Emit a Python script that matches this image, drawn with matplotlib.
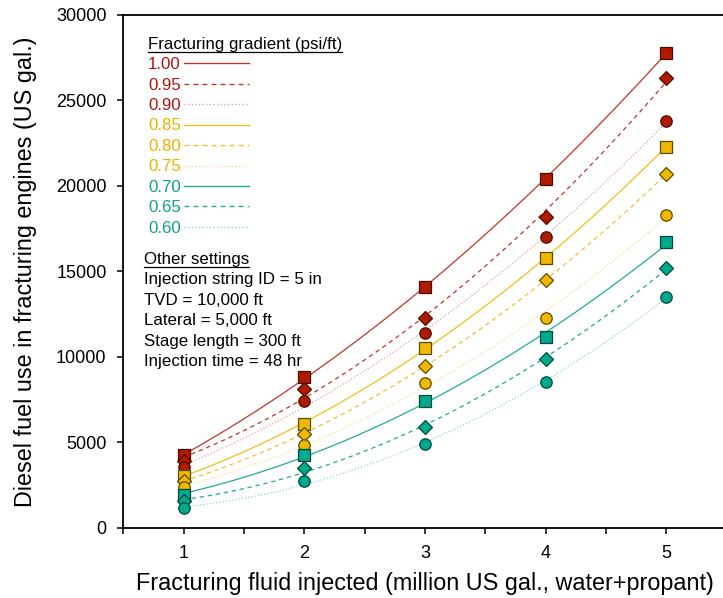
#!/usr/bin/env python3
"""Diesel fuel use vs injected fracturing fluid, per fracturing gradient."""
import matplotlib
matplotlib.use("Agg")
import matplotlib.pyplot as plt
from matplotlib.lines import Line2D
import numpy as np

plt.rcParams["font.family"] = ["Liberation Sans", "DejaVu Sans"]

# million US gal. injected
fluid = [1, 2, 3, 4, 5]

gradients = ["1.00", "0.95", "0.90", "0.85", "0.80", "0.75", "0.70", "0.65", "0.60"]

fuel_100 = [4250, 8800, 14100, 20400, 27800]
fuel_095 = [3900, 8100, 12300, 18200, 26300]
fuel_090 = [3550, 7400, 11400, 17000, 23800]
fuel_085 = [3050, 6100, 10500, 15800, 22300]
fuel_080 = [2750, 5500, 9500, 14500, 20700]
fuel_075 = [2400, 4850, 8500, 12300, 18300]
fuel_070 = [1950, 4250, 7450, 11150, 16700]
fuel_065 = [1550, 3500, 5900, 9900, 15200]
fuel_060 = [1150, 2750, 4900, 8550, 13500]

settings = [
    "Injection string ID = 5 in",
    "TVD = 10,000 ft",
    "Lateral = 5,000 ft",
    "Stage length = 300 ft",
    "Injection time = 48 hr",
]

series = [fuel_100, fuel_095, fuel_090, fuel_085, fuel_080,
          fuel_075, fuel_070, fuel_065, fuel_060]

# three colour groups x three line/marker styles
face = ["#b01a00", "#f0b800", "#00a98b"]
edge = ["#4a0c00", "#5e4a00", "#00483a"]
text_col = ["#b0140f", "#f0b000", "#12a183"]
line_col = [["#c0352a", "#c0352a", "#e8a0a0"],
            ["#f3be1a", "#f0c030", "#f8dc90"],
            ["#1eae90", "#1eae90", "#8adbc6"]]
markers = ["s", "D", "o"]
msizes = [8.2, 7.0, 8.2]
styles = ["-", (0, (3.5, 3)), (0, (1, 1.6))]

fig = plt.figure(figsize=(7.23, 5.98), dpi=100)
ax = fig.add_axes([0.1705, 0.1171, 0.8347, 0.8579])

xs = np.linspace(1, 5, 200)
for i, ys in enumerate(series):
    g, k = divmod(i, 3)
    coef = np.polyfit(fluid, ys, 2)
    ax.plot(xs, np.polyval(coef, xs), color=line_col[g][k], lw=0.9,
            linestyle=styles[k], zorder=2)
for i, ys in enumerate(series):
    g, k = divmod(i, 3)
    ax.plot(fluid, ys, linestyle="none", marker=markers[k], ms=msizes[k],
            mfc=face[g], mec=edge[g], mew=0.9, zorder=3)

ax.set_xlim(0.5, 5.5)
ax.set_ylim(0, 30000)
ax.set_xticks([1, 2, 3, 4, 5])
ax.set_xticks([0.5, 1.5, 2.5, 3.5, 4.5], minor=True)
ax.set_yticks(np.arange(0, 30001, 5000))
ax.tick_params(axis="both", which="both", direction="out", length=4,
               width=1.1, labelsize=13, pad=8)
for side in ("left", "bottom", "top", "right"):
    ax.spines[side].set_linewidth(1.3)
ax.set_xlabel("Fracturing fluid injected (million US gal., water+propant)",
              fontsize=16.8, labelpad=7.5)
ax.set_ylabel("Diesel fuel use in fracturing engines (US gal.)",
              fontsize=16.8, labelpad=14)

# hand-built legend block
fs = 12.2
lx = 0.041
title = ax.text(lx, 0.933, "Fracturing gradient (psi/ft)", transform=ax.transAxes,
                fontsize=fs, va="baseline")
row = 0.0398
for i, lab in enumerate(gradients):
    g, k = divmod(i, 3)
    yb = 0.8942 - i * row
    ax.text(lx, yb, lab, transform=ax.transAxes, fontsize=fs,
            color=text_col[g], va="baseline")
    ax.add_line(Line2D([0.101, 0.208], [yb + 0.0112] * 2, transform=ax.transAxes,
                       color=line_col[g][k], lw=1.0, linestyle=styles[k]))

other = ax.text(0.0343, 0.5152, "Other settings", transform=ax.transAxes,
                fontsize=fs, va="baseline")
for i, s in enumerate(settings):
    ax.text(0.0343, 0.4752 - i * 0.0400, s, transform=ax.transAxes,
            fontsize=fs, va="baseline")

# underline the two headings
fig.canvas.draw()
renderer = fig.canvas.get_renderer()
for t in (title, other):
    bb = t.get_window_extent(renderer)
    base = ax.transAxes.transform(t.get_position())[1] - 3
    (x0, y0), (x1, _) = fig.transFigure.inverted().transform([(bb.x0, base), (bb.x1, base)])
    fig.add_artist(Line2D([x0, x1], [y0, y0], transform=fig.transFigure,
                          color="black", lw=0.9))

fig.savefig("out.png", dpi=100)
